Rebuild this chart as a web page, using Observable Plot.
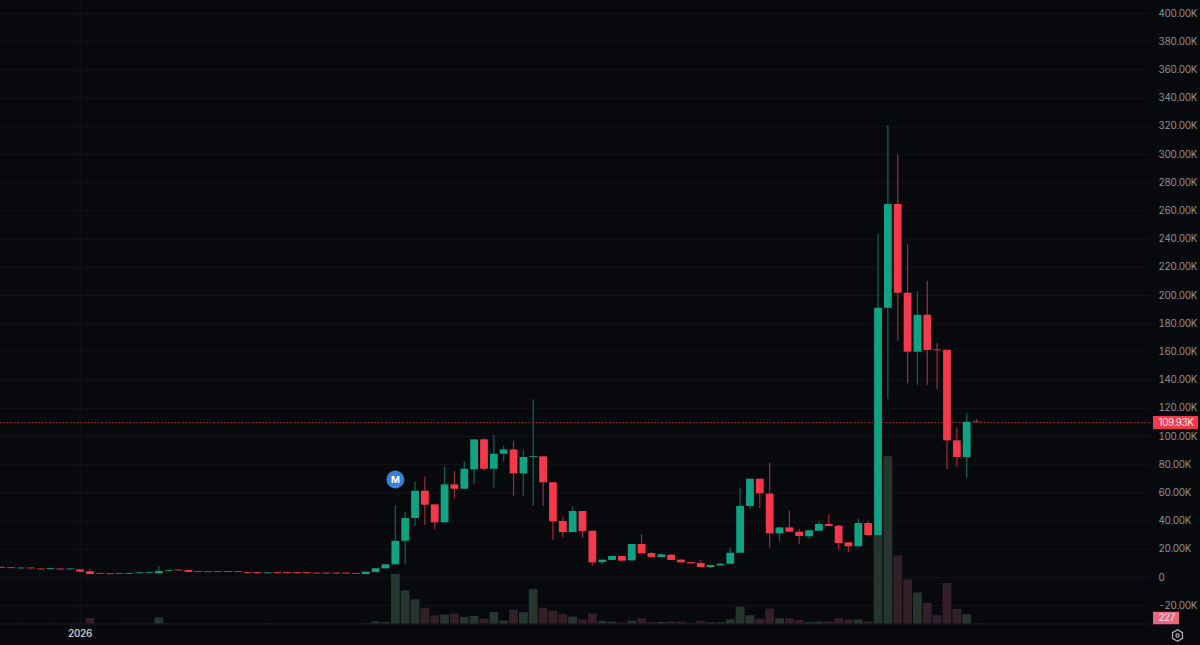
<!DOCTYPE html>
<html>
<head>
<meta charset="utf-8">
<script src="https://cdn.jsdelivr.net/npm/d3@7"></script>
<script src="https://cdn.jsdelivr.net/npm/@observablehq/plot@0.6"></script>
<style>
html,body{margin:0;padding:0;background:#08090c;overflow:hidden}
svg{display:block}
svg text{letter-spacing:-.35px}
</style>
</head>
<body>
<div id="chart"></div>
<script>
// All prices and volumes are in thousands (K). First bar is 40 days before the "M" marker bar.
const open = [7.2,6.9,6.1,6.7,6.0,5.7,6.0,5.4,5.4,4.0,2.9,2.6,2.3,2.3,2.7,3.0,2.6,4.2,5.3,5.0,
  4.1,4.1,4.1,4.1,4.1,3.4,3.4,2.7,3.4,3.4,3.4,3.4,3.1,3.1,3.1,3.1,2.9,2.1,3.5,6.2,
  9.0,25.7,41.8,61.2,51.5,38.8,65.7,62.6,76.4,97.6,76.8,87.4,90.5,73.5,85.2,85.6,67.2,39.7,31.9,46.8,
  32.8,10.6,12.1,14.9,11.8,23.4,17.0,14.2,15.8,12.3,10.6,9.9,7.1,8.3,9.4,17.2,50.4,69.7,59.1,31.0,
  35.2,32.1,28.9,32.8,37.6,36.4,24.6,21.8,38.3,29.8,191,264.5,201.6,159.8,186,161.4,161.2,96.9,85.1,110.3];
const close = [6.6,6.3,6.7,6.1,5.4,6.3,5.4,6.0,3.8,2.1,2.3,2.0,2.9,2.9,3.3,3.6,4.3,4.8,4.7,3.6,
  3.5,3.5,3.5,3.5,3.5,2.7,2.7,3.3,2.7,2.7,2.7,2.7,2.5,2.5,2.5,2.5,2.3,3.8,6.2,9.0,
  25.7,41.8,61.2,51.3,38.8,65.7,62.6,76.8,97.6,76.8,87.4,90.5,73.5,85.1,85.8,67.2,39.5,31.9,46.8,32.6,
  10.4,12.3,14.9,11.6,23.4,16.8,14.2,16.1,12.1,10.4,9.7,7.1,8.5,9.4,17.2,50.4,69.7,59.4,31.0,35.2,
  32.1,29.1,33.1,37.6,36.2,24.1,21.8,38.3,29.8,191,264.5,201.6,159.8,186,161,160.8,96.9,85.1,110.1,109.93];
const high = [7.2,6.9,6.7,6.7,6.0,6.3,6.0,6.0,5.4,5.5,2.9,2.6,2.9,2.9,3.3,3.6,7.8,4.8,5.3,5.0,
  4.1,4.1,4.1,4.1,4.1,3.4,3.4,3.3,3.4,3.4,3.4,3.4,3.1,3.1,3.1,3.1,2.9,3.8,6.2,9.0,
  50.6,46.3,67.8,71.2,51.5,78.2,75.2,82.3,97.6,98.6,100.9,92.9,96.7,90.1,126,85.6,67.2,42.8,50.1,46.8,
  32.8,12.3,14.9,14.9,23.4,30.3,17.7,17,16.3,13,10.6,12,8.5,10.2,20.6,62.9,69.7,69.7,81.1,35.2,
  46.8,34,33.1,39.5,44.5,37,24.6,41.3,39.5,243.3,320.3,299.5,236,202.6,210,165.7,161.2,105.9,116.1,111.8];
const low = [6.6,6.3,6.1,6.1,5.4,5.7,5.4,5.4,3.8,2.1,2.3,2.0,2.3,2.3,2.7,3.0,2.6,4.2,4.7,3.6,
  3.5,3.5,3.5,3.5,3.5,2.7,2.7,2.7,2.7,2.7,2.7,2.7,2.5,2.5,2.5,2.5,2.3,2.1,3.5,6.2,
  9.0,9.2,36.2,36.9,34,38.8,55.8,62.6,66.2,75.4,63.1,82.3,57.7,57.4,50.6,50.4,26.2,28.4,31.9,27.9,
  8.0,8.7,12.1,11.6,11.8,16.8,14.2,14.2,12.1,10.4,9.7,7.1,6.5,8.3,9.4,17.2,48.2,48.9,21,25.5,
  32.1,23.4,26.7,32.8,36.2,19.9,17.7,21.8,29.8,29.8,126.2,167.6,137.4,136.2,136.2,133.1,76.6,78.2,70.2,109.93];
const volume = [.06,.06,.06,.06,.06,.06,.06,.06,.06,2.5,.06,.06,.06,.06,.06,.06,2.7,.06,.06,.06,
  .06,.06,.06,.06,.06,.06,.06,.1,.06,.06,.06,.06,.06,.06,.06,.06,.06,.2,.9,.7,
  22.3,14.9,10.9,7.0,3.7,4.0,4.5,3.0,3.4,2.2,5.2,1.3,6.3,5.1,15.5,7.0,5.8,4.3,3.1,1.8,
  4.5,1.2,.9,.45,1.3,2.4,.7,.7,1,.9,.3,1.2,.6,.6,1.9,7.6,3.7,2.1,6.7,2.4,
  2.4,1.6,.7,.9,1,2.4,1.8,1.8,1,40,75.1,30.6,19.9,13.9,9.3,3.7,18.2,6.6,4.2,.227];
const priceTicks = d3.range(-20, 401, 20);
const timeTicks = [new Date(Date.UTC(2026, 0, 1))];
const lastPrice = 109.93;
const lastVolume = 227;
const markerPrice = 69.5;
const markerBar = 40;

const firstDay = Date.UTC(2025, 11, 24);
const day = i => new Date(firstDay + i * 864e5);
const bars = open.map((o, i) => ({date: day(i), open: o, close: close[i], high: high[i], low: low[i], volume: volume[i], up: close[i] >= o}));

const GREEN = "#0fa283", RED = "#f5384c";
const WICK_G = "#0e6657", WICK_R = "#a02c3b";
const VOL_G = "#27352f", VOL_R = "#321f28";
const volBase = -33, volK = 1.58; // volume pane sits under the price pane

const chart = Plot.plot({
  width: 1200, height: 645,
  marginLeft: 0, marginRight: 50, marginTop: 0, marginBottom: 20,
  style: {background: "#08090c", fontFamily: "Inter, sans-serif", overflow: "visible"},
  x: {type: "utc", domain: [day(-0.08), day(116.66)]},
  y: {domain: [-34.04, 409.22]},
  marks: [
    Plot.ruleY(priceTicks, {stroke: "#121518", strokeWidth: 1}),
    Plot.ruleX(timeTicks, {stroke: "#121518", strokeWidth: 1}),
    Plot.ruleY([volBase], {stroke: "#191c1e", strokeWidth: 1}),
    Plot.ruleX(bars, {x: "date", y1: volBase, y2: d => volBase + d.volume * volK, stroke: d => d.up ? VOL_G : VOL_R, strokeWidth: 8.8}),
    Plot.ruleY([lastPrice], {stroke: "#a82c3c", strokeWidth: 1, strokeDasharray: "1.5 2"}),
    Plot.ruleX(bars, {x: "date", y1: "low", y2: "high", stroke: d => d.up ? WICK_G : WICK_R, strokeWidth: 1.2}),
    Plot.ruleX(bars, {x: "date", y1: "open", y2: "close", stroke: d => d.up ? GREEN : RED, strokeWidth: 7.8}),
    Plot.dot([bars[markerBar]], {x: "date", y: () => markerPrice, r: 9, fill: "#3a80d8", stroke: "none"}),
    Plot.text([bars[markerBar]], {x: "date", y: () => markerPrice, text: () => "M", fill: "#fff", fontSize: 9.5, fontWeight: 700}),
    Plot.axisY(priceTicks, {anchor: "right", tickSize: 0, tickPadding: 8, label: null, fontSize: 9.8, color: "#8f9296",
      tickFormat: v => v === 0 ? "0" : v.toFixed(2) + "K"}),
    Plot.axisX(timeTicks, {anchor: "bottom", tickSize: 0, tickPadding: 5, label: null, fontSize: 9.8, fontWeight: 600, color: "#c4c6c8", tickFormat: () => "2026"}),
    Plot.ruleY([lastPrice], {stroke: "#f5384c", strokeWidth: 13, insetLeft: 1153, insetRight: -48}),
    Plot.text([lastPrice], {y: d => d, text: d => d.toFixed(2) + "K", frameAnchor: "right", textAnchor: "start", dx: 8, fill: "#ffe4e8", fontSize: 9.8}),
    Plot.ruleY([lastVolume], {y: d => volBase + d / 1000 * volK, dy: -5.5, stroke: "#ea6480", strokeWidth: 12.5, insetLeft: 1153, insetRight: -29}),
    Plot.text([lastVolume], {y: d => volBase + d / 1000 * volK, dy: -5.5, text: d => String(d), frameAnchor: "right", textAnchor: "start", dx: 8, fill: "#ffe4e8", fontSize: 9.8}),
    Plot.dot([0], {frameAnchor: "bottom-right", dx: 27, dy: 10, symbol: "hexagon", r: 5, stroke: "#b0b3b6", fill: "none", strokeWidth: 1.2}),
    Plot.dot([0], {frameAnchor: "bottom-right", dx: 27, dy: 10, r: 1.6, stroke: "#b0b3b6", fill: "none", strokeWidth: 1.2})
  ]
});
document.getElementById("chart").append(chart);
</script>
</body>
</html>
